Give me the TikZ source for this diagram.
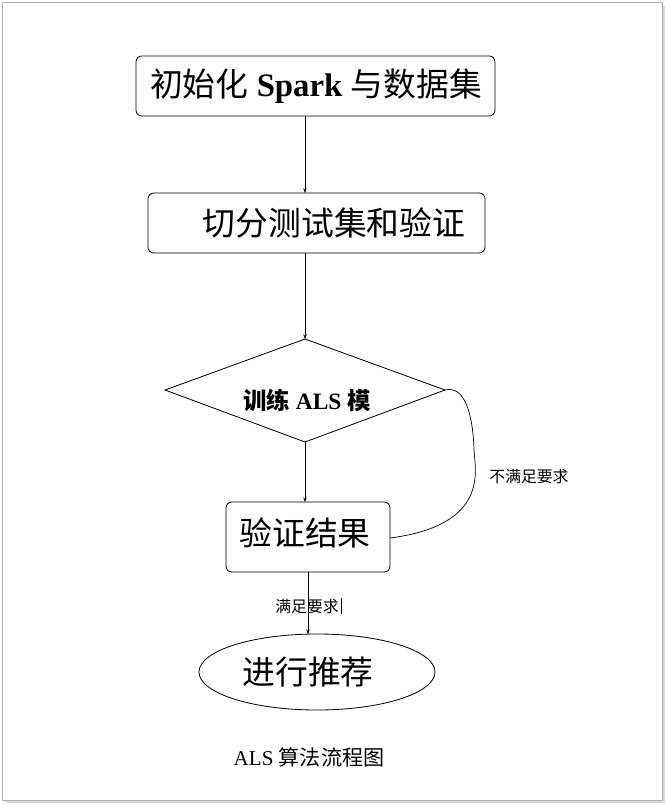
\documentclass[tikz,border=0pt]{standalone}
\usepackage{fontspec}
\setmainfont{Liberation Serif}
\newfontfamily\cjk{Noto Sans CJK SC}
\usetikzlibrary{shapes.geometric,arrows.meta}
\begin{document}
\begin{tikzpicture}[x=0.03cm,y=-0.03cm,
  box/.style={draw,rounded corners=5pt,line width=0.7pt},
  arr/.style={-{Stealth[length=4pt,width=3pt]},line width=0.5pt},
  big/.style={font=\fontsize{28}{32}\selectfont}]
\useasboundingbox (0,0) rectangle (669,806);
\fill[white] (0,0) rectangle (669,806);
\draw[gray!60,line width=0.6pt] (2,2) rectangle (662,800);
\draw[gray!30,line width=1.5pt] (664,6) -- (664,802) -- (6,802);
\draw[box] (136,56) rectangle (495,116);
\node[big] (b1) at (316,86) {{\cjk 初始化} \textbf{Spark} {\cjk 与数据集}};
\draw[box] (148,193) rectangle (485,253);
\node[big] (b2) at (334,223) {{\cjk 切分测试集和验证}};
\draw[line width=0.7pt] (165,390) -- (305,339) -- (445,390) -- (305,442) -- cycle;
\node[font=\fontsize{20}{22}\selectfont\bfseries] (d) at (307,400) {{\cjk 训练} ALS {\cjk 模}};
\draw[box] (226,502) rectangle (390,572);
\node[big] (b3) at (305,533) {{\cjk 验证结果}};
\draw[line width=0.7pt] (317,672) ellipse [x radius=118, y radius=38];
\node[big] (e) at (308,672) {{\cjk 进行推荐}};
\coordinate (a1) at (305,116); \coordinate (a2) at (305,193);
\coordinate (a3) at (305,253); \coordinate (a4) at (305,339);
\coordinate (a5) at (305,442); \coordinate (a6) at (305,502);
\coordinate (a7) at (308,572); \coordinate (a8) at (308,634);
\coordinate (c1) at (390,538); \coordinate (c2) at (445,390);
\draw[arr] (a1) -- (a2);
\draw[arr] (a3) -- (a4);
\draw[arr] (a5) -- (a6);
\draw[arr] (a7) -- (a8);
\draw[line width=0.6pt] (c1) .. controls (490,525) and (475,470) .. (474,450) .. controls (473,415) and (465,385) .. (c2);
\node[font=\fontsize{13.5}{15}\selectfont] (l1) at (529,476) {{\cjk 不满足要求}};
\node[font=\fontsize{13.5}{15}\selectfont] (l2) at (307,606) {{\cjk 满足要求}};
\draw[line width=0.8pt] (341,598) -- (341,614);
\node[font=\fontsize{18}{20}\selectfont] (cap) at (309,757) {ALS {\cjk 算法流程图}};
\end{tikzpicture}
\end{document}
